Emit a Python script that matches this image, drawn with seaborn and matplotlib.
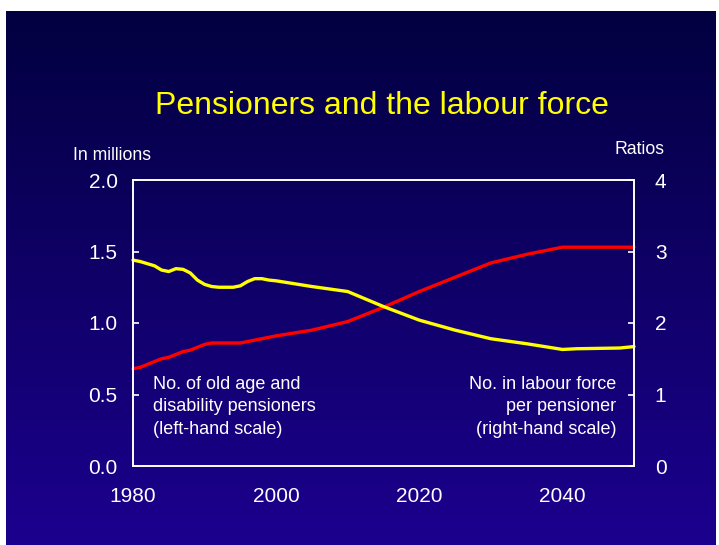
import numpy as np
import pandas as pd
import matplotlib
matplotlib.use("Agg")
import matplotlib.pyplot as plt
import seaborn as sns

# Number of old age and disability pensioners (millions, left-hand scale)
pension_years = [1980, 1981, 1982, 1983, 1984, 1985, 1986, 1987, 1988, 1989,
                 1990, 1991, 1992, 1993, 1994, 1995, 1996, 1997, 1998, 1999,
                 2000, 2005, 2010, 2015, 2020, 2025, 2030, 2035, 2040, 2045, 2050]
pensioners = [0.68, 0.69, 0.71, 0.73, 0.75, 0.76, 0.78, 0.80, 0.81, 0.83,
              0.85, 0.86, 0.86, 0.86, 0.86, 0.86, 0.87, 0.88, 0.89, 0.90,
              0.91, 0.95, 1.01, 1.11, 1.22, 1.32, 1.42, 1.48, 1.53, 1.53, 1.53]

# Number in labour force per pensioner (ratio, right-hand scale)
ratio_years = [1980, 1981, 1982, 1983, 1984, 1985, 1986, 1987, 1988, 1989,
               1990, 1991, 1992, 1993, 1994, 1995, 1996, 1997, 1998, 1999,
               2000, 2005, 2010, 2015, 2020, 2025, 2030, 2035, 2040, 2042,
               2048, 2050]
ratios = [2.88, 2.86, 2.83, 2.80, 2.74, 2.72, 2.76, 2.75, 2.70, 2.60,
          2.54, 2.51, 2.50, 2.50, 2.50, 2.52, 2.58, 2.62, 2.62, 2.60,
          2.59, 2.51, 2.44, 2.23, 2.04, 1.90, 1.78, 1.71, 1.63, 1.64,
          1.65, 1.67]

x_ticks = [1980, 1990, 2000, 2010, 2020, 2030, 2040, 2050]
x_labels = ["1980", "", "2000", "", "2020", "", "2040", ""]
left_ticks = [0.0, 0.5, 1.0, 1.5, 2.0]
left_labels = ["0.0", "0.5", "1.0", "1.5", "2.0"]
right_ticks = [0, 1, 2, 3, 4]
right_labels = ["0", "1", "2", "3", "4"]

title = "Pensioners and the labour force"
left_unit = "In millions"
right_unit = "Ratios"
left_note = "No. of old age and\ndisability pensioners\n(left-hand scale)"
right_note = "No. in labour force\nper pensioner\n(right-hand scale)"

pension_df = pd.DataFrame({"year": pension_years, "value": pensioners})
ratio_df = pd.DataFrame({"year": ratio_years, "value": ratios})

sns.set_style("white")
plt.rcParams["font.family"] = ["Liberation Sans", "DejaVu Sans"]

W, H = 719, 545
fig = plt.figure(figsize=(W / 100, H / 100), dpi=100)
fig.patch.set_facecolor("white")

# Slide background: vertical navy-to-blue gradient
bg = fig.add_axes([6 / W, 0, (716 - 6) / W, (H - 11) / H])
bg.set_axis_off()
top_c = np.array([0x02, 0x00, 0x40]) / 255
bot_c = np.array([0x1c, 0x00, 0x8e]) / 255
t = np.linspace(0, 1, 256)[:, None]
grad = top_c[None, :] * (1 - t) + bot_c[None, :] * t
bg.imshow(grad[:, None, :], aspect="auto", extent=[0, 1, 0, 1])

ax_l, ax_r_edge = 133 / W, 634 / W
ax_b, ax_t = 1 - 466 / H, 1 - 180 / H
ax = fig.add_axes([ax_l, ax_b, ax_r_edge - ax_l, ax_t - ax_b])
ax.set_facecolor("none")
ax2 = ax.twinx()
ax2.set_facecolor("none")

sns.lineplot(data=pension_df, x="year", y="value", ax=ax, color="#ff0000",
             linewidth=2.4, clip_on=False)
sns.lineplot(data=ratio_df, x="year", y="value", ax=ax2, color="#ffff00",
             linewidth=2.4, clip_on=False)

ax.set_xlim(1980, 2050)
ax.set_ylim(0, 2.0)
ax2.set_ylim(0, 4)
ax.set_xlabel("")
ax.set_ylabel("")
ax2.set_ylabel("")

ax.set_xticks(x_ticks)
ax.set_xticklabels(x_labels)
ax.set_yticks(left_ticks)
ax.set_yticklabels(left_labels)
ax2.set_yticks(right_ticks)
ax2.set_yticklabels(right_labels)

for a in (ax, ax2):
    for s in a.spines.values():
        s.set_color("white")
        s.set_linewidth(1.2)
    a.tick_params(colors="white", direction="in", length=4.5, width=1.2,
                  labelsize=15, labelcolor="white")
ax.tick_params(axis="y", pad=11)
ax.tick_params(axis="x", pad=15)
ax2.tick_params(axis="y", pad=15)
ax.tick_params(axis="y", right=False)
ax2.tick_params(axis="y", left=False)

fig.text(382 / W, 1 - 106 / H, title, color="#ffff00", fontsize=23,
         ha="center", va="center")
fig.text(73 / W, 1 - 155 / H, left_unit, color="white", fontsize=12.7,
         ha="left", va="center")
fig.text(664 / W, 1 - 150 / H, right_unit, color="white", fontsize=12.7,
         ha="right", va="center")

# Series notes, three lines each
note_top = 1 - 376 / H
fig.text(153 / W, note_top, left_note, color="white", fontsize=13,
         ha="left", va="top", linespacing=1.42)
fig.text(616 / W, note_top, right_note, color="white", fontsize=13,
         ha="right", va="top", linespacing=1.42, multialignment="right")

fig.savefig("out.png", dpi=100, facecolor=fig.get_facecolor())
